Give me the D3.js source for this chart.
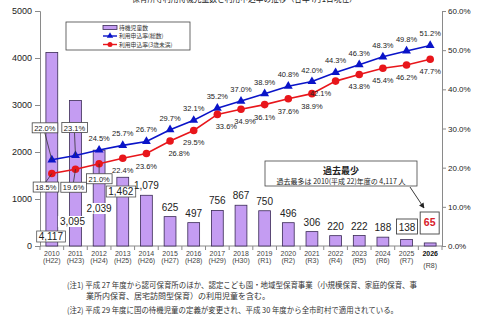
<!DOCTYPE html>
<html>
<head>
<meta charset="utf-8">
<script src="https://cdn.jsdelivr.net/npm/d3@7"></script>
<style>
  body { margin: 0; background: #fff; }
  svg { display: block; }
  text { font-family: "Liberation Sans", Arial, "Noto Sans CJK JP", sans-serif; }
  .jp { font-family: "Noto Sans CJK JP", sans-serif; }
</style>
</head>
<body>
<script>
// data
const years = ["2010","2011","2012","2013","2014","2015","2016","2017","2018","2019","2020","2021","2022","2023","2024","2025","2026"];
const eras = ["(H22)","(H23)","(H24)","(H25)","(H26)","(H27)","(H28)","(H29)","(H30)","(R1)","(R2)","(R3)","(R4)","(R5)","(R6)","(R7)","(R8)"];
const waiting = [4117, 3095, 2039, 1462, 1079, 625, 497, 756, 867, 750, 496, 306, 220, 222, 188, 138, 65];
const rateAll = [22.0, 23.1, 24.5, 25.7, 26.7, 29.7, 32.1, 35.2, 37.0, 38.9, 40.8, 42.0, 44.3, 46.3, 48.3, 49.8, 51.2];
const rateUnder3 = [18.5, 19.6, 21.0, 22.4, 23.6, 26.8, 29.5, 33.6, 34.9, 36.1, 37.6, 38.9, 42.1, 43.8, 45.4, 46.2, 47.7];
const leftTicks = [0, 1000, 2000, 3000, 4000, 5000];
const rightTicks = [0, 10, 20, 30, 40, 50, 60];
const legendLabels = ["待機児童数", "利用申込率(総数)", "利用申込率(3歳未満)"];

const W = 480, H = 320;
const plot = {left: 40, right: 442, top: 11, bottom: 246};
const barFill = "#c49cf2", blue = "#0a14c8", red = "#e8161b", ink = "#222";

const svg = d3.select("body").append("svg").attr("width", W).attr("height", H);

const x = d3.scaleBand().domain(years).range([plot.left, plot.right])
  .paddingInner(0.5).paddingOuter(0.25);
const yL = d3.scaleLinear().domain([0, 5000]).range([plot.bottom, plot.top]);
const yR = d3.scaleLinear().domain([0, 60]).range([plot.bottom, plot.top]);
const cx = d => x(d) + x.bandwidth() / 2;

// title (cut off at the top in the original)
svg.append("text").attr("class", "jp")
  .attr("x", 132).attr("y", 2).attr("font-size", 10).style("fill", ink)
  .attr("textLength", 225).attr("lengthAdjust", "spacingAndGlyphs")
  .text("保育所等利用待機児童数と利用申込率の推移（各年4月1日現在）");

// axes
const axL = svg.append("g").attr("transform", `translate(${plot.left},0)`)
  .call(d3.axisLeft(yL).tickValues(leftTicks).tickSize(5).tickPadding(3).tickFormat(d3.format("d")));
const axR = svg.append("g").attr("transform", `translate(${plot.right},0)`)
  .call(d3.axisRight(yR).tickValues(rightTicks).tickSize(4).tickPadding(2).tickFormat(d => d.toFixed(1) + "%"));
[axL, axR].forEach(a => {
  a.selectAll("path, line").attr("stroke", "#8a8a8a");
  a.selectAll("text").attr("font-size", 9).style("fill", ink);
});
axR.selectAll("text").attr("font-size", 8);

// bottom axis: baseline with ticks between categories
svg.append("line").attr("x1", plot.left).attr("x2", plot.right)
  .attr("y1", plot.bottom).attr("y2", plot.bottom).attr("stroke", "#8a8a8a");
svg.append("g").selectAll("line").data(d3.range(years.length + 1)).join("line")
  .attr("x1", i => plot.left + i * x.step()).attr("x2", i => plot.left + i * x.step())
  .attr("y1", plot.bottom).attr("y2", plot.bottom + 4).attr("stroke", "#8a8a8a");

const last = years.length - 1;
const xl = svg.append("g").selectAll("g").data(years).join("g");
xl.append("text").attr("x", d => cx(d)).attr("y", 256).attr("text-anchor", "middle")
  .attr("font-size", 7)
  .attr("font-weight", (d, i) => i === last ? "bold" : null)
  .style("fill", (d, i) => i === last ? "#111" : "#444")
  .text(d => d);
xl.append("text").attr("x", d => cx(d)).attr("y", (d, i) => i === last ? 268 : 263)
  .attr("text-anchor", "middle").attr("font-size", 7).style("fill", "#444")
  .text((d, i) => eras[i]);

// bars
svg.append("g").selectAll("rect").data(waiting).join("rect")
  .attr("x", (d, i) => x(years[i])).attr("width", x.bandwidth())
  .attr("y", d => yL(d)).attr("height", d => plot.bottom - yL(d))
  .attr("fill", barFill).attr("stroke", "#3a2a55").attr("stroke-width", 0.8);

// bar labels
const fmt = d3.format(",");
const boxedBar = { // index -> [dx, baseline, border]
  0: [-1, 240, true], 1: [-3, 225, false], 2: [0, 212, false], 3: [-2, 195, true]
};
waiting.forEach((v, i) => {
  const px = cx(years[i]);
  if (boxedBar[i]) {
    const [dx, by, border] = boxedBar[i];
    const t = svg.append("text").attr("x", px + dx).attr("y", by).attr("text-anchor", "middle")
      .attr("font-size", 10).style("fill", ink).text(fmt(v));
    const bb = t.node().getBBox();
    svg.insert("rect", () => t.node())
      .attr("x", bb.x - 2).attr("y", by - 9).attr("width", bb.width + 4).attr("height", 11)
      .attr("fill", "#fff").attr("stroke", border ? "#555" : "none").attr("stroke-width", 0.8);
  } else if (i === last) {
    svg.append("rect").attr("x", px - 10).attr("y", 212).attr("width", 19).attr("height", 22)
      .attr("fill", "#fff").attr("stroke", "#444").attr("stroke-width", 0.9);
    svg.append("text").attr("x", px - 0.5).attr("y", 226).attr("text-anchor", "middle")
      .attr("font-size", 10.5).attr("font-weight", "bold").style("fill", "#d8202a").text(fmt(v));
  } else if (i === last - 1) {
    svg.append("rect").attr("x", px - 10).attr("y", 219).attr("width", 21).attr("height", 15)
      .attr("fill", "#fff").attr("stroke", "#444").attr("stroke-width", 0.9);
    svg.append("text").attr("x", px + 0.5).attr("y", 230.5).attr("text-anchor", "middle")
      .attr("font-size", 10).style("fill", ink).text(fmt(v));
  } else {
    svg.append("text").attr("x", px).attr("y", yL(v) - 6).attr("text-anchor", "middle")
      .attr("font-size", 10).style("fill", ink).text(fmt(v));
  }
});

// lines
const lineAll = d3.line().x((d, i) => cx(years[i])).y(d => yR(d));
svg.append("path").datum(rateAll).attr("d", lineAll).attr("fill", "none")
  .attr("stroke", blue).attr("stroke-width", 1.6);
svg.append("path").datum(rateUnder3).attr("d", lineAll).attr("fill", "none")
  .attr("stroke", red).attr("stroke-width", 1.6);
const tri = d3.symbol().type(d3.symbolTriangle).size(34);
svg.append("g").selectAll("path").data(rateAll).join("path")
  .attr("d", tri).attr("fill", blue)
  .attr("transform", (d, i) => `translate(${cx(years[i])},${yR(d)})`);
svg.append("g").selectAll("circle").data(rateUnder3).join("circle")
  .attr("cx", (d, i) => cx(years[i])).attr("cy", d => yR(d)).attr("r", 3.8).attr("fill", red);

// percentage labels
const pct = d => d.toFixed(1) + "%";
const blueBox = {0: [-7, -29], 1: [-1, -25]};
const redBox = {0: [-6, 16.5], 1: [-2, 21], 2: [0, 18]};
const redShift = {5: 9, 7: 9, 8: 4, 12: -15};

function boxedLabel(px, py, v, off) {
  const tx = px + off[0], ty = py + off[1];
  const t = svg.append("text").attr("x", tx).attr("y", ty).attr("text-anchor", "middle")
    .attr("font-size", 7.5).style("fill", ink).text(pct(v));
  const bb = t.node().getBBox();
  const top = ty - 8, bot = ty + 2;
  const ly = off[1] < 0 ? bot : top;
  svg.insert("line", () => t.node()).attr("x1", tx).attr("y1", ly).attr("x2", px).attr("y2", py)
    .attr("stroke", "#333").attr("stroke-width", 0.8);
  svg.insert("rect", () => t.node()).attr("x", bb.x - 2).attr("y", top)
    .attr("width", bb.width + 4).attr("height", bot - top)
    .attr("fill", "#fff").attr("stroke", "#444").attr("stroke-width", 0.8);
}

rateAll.forEach((v, i) => {
  const px = cx(years[i]), py = yR(v);
  if (blueBox[i]) boxedLabel(px, py, v, blueBox[i]);
  else svg.append("text").attr("x", px).attr("y", py - 9).attr("text-anchor", "middle")
    .attr("font-size", 7.5).style("fill", ink).text(pct(v));
});
rateUnder3.forEach((v, i) => {
  const px = cx(years[i]), py = yR(v);
  if (redBox[i]) boxedLabel(px, py, v, redBox[i]);
  else svg.append("text").attr("x", px + (redShift[i] || 0)).attr("y", py + 15)
    .attr("text-anchor", "middle").attr("font-size", 7.5).style("fill", ink).text(pct(v));
});

// legend
const rowY = i => 27.5 + i * 8.5;
const lg = svg.append("g");
lg.append("rect").attr("x", 66).attr("y", 22).attr("width", 124).attr("height", 28)
  .attr("fill", "#fff").attr("stroke", "#444").attr("stroke-width", 0.8);
lg.append("rect").attr("x", 103).attr("y", rowY(0) - 2).attr("width", 14).attr("height", 4)
  .attr("fill", barFill).attr("stroke", "#3a2a55").attr("stroke-width", 0.8);
lg.append("line").attr("x1", 103).attr("x2", 117).attr("y1", rowY(1)).attr("y2", rowY(1))
  .attr("stroke", blue).attr("stroke-width", 1.4);
lg.append("path").attr("d", d3.symbol().type(d3.symbolTriangle).size(18))
  .attr("transform", `translate(110,${rowY(1)})`).attr("fill", blue);
lg.append("line").attr("x1", 103).attr("x2", 117).attr("y1", rowY(2)).attr("y2", rowY(2))
  .attr("stroke", red).attr("stroke-width", 1.4);
lg.append("circle").attr("cx", 110).attr("cy", rowY(2)).attr("r", 2.5).attr("fill", red);
lg.selectAll("text.lab").data(legendLabels).join("text").attr("class", "jp lab")
  .attr("x", 119).attr("y", (d, i) => rowY(i) + 2.3).attr("font-size", 5.8)
  .style("fill", "#333").text(d => d);

// callout
svg.append("rect").attr("x", 265).attr("y", 161).attr("width", 152).attr("height", 25)
  .attr("fill", "#fff").attr("stroke", "#444").attr("stroke-width", 0.8);
svg.append("text").attr("class", "jp").attr("x", 341).attr("y", 174).attr("text-anchor", "middle")
  .attr("font-size", 9).attr("font-weight", "bold").style("fill", ink).text("過去最少");
svg.append("text").attr("class", "jp").attr("x", 341).attr("y", 184).attr("text-anchor", "middle")
  .attr("font-size", 7).style("fill", ink).text("過去最多は 2010(平成 22)年度の 4,117 人");
svg.append("defs").append("marker").attr("id", "ah").attr("viewBox", "0 0 10 10")
  .attr("refX", 9).attr("refY", 5).attr("markerWidth", 6).attr("markerHeight", 6)
  .attr("orient", "auto").append("path").attr("d", "M0,0L10,5L0,10z").attr("fill", "#222");
svg.append("line").attr("x1", 410).attr("y1", 187).attr("x2", 424).attr("y2", 208)
  .attr("stroke", "#222").attr("stroke-width", 0.9).attr("marker-end", "url(#ah)");

// notes
const notes = svg.append("g").attr("font-size", 8);
notes.append("text").attr("class", "jp").attr("x", 67).attr("y", 288).style("fill", "#333")
  .attr("textLength", 350).attr("lengthAdjust", "spacingAndGlyphs")
  .text("(注1) 平成 27 年度から認可保育所のほか、認定こども園・地域型保育事業（小規模保育、家庭的保育、事");
notes.append("text").attr("class", "jp").attr("x", 86).attr("y", 299).style("fill", "#333")
  .text("業所内保育、居宅訪問型保育）の利用児童を含む。");
notes.append("text").attr("class", "jp").attr("x", 67).attr("y", 313).style("fill", "#333")
  .attr("textLength", 331).attr("lengthAdjust", "spacingAndGlyphs")
  .text("(注2) 平成 29 年度に国の待機児童の定義が変更され、平成 30 年度から全市町村で適用されている。");
</script>
</body>
</html>
